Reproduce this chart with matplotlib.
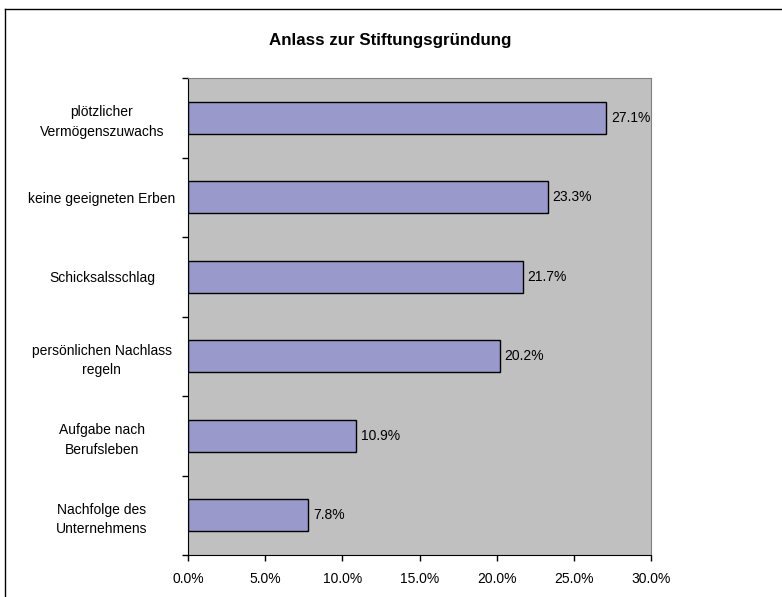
import numpy as np
import matplotlib.pyplot as plt
from matplotlib.lines import Line2D

plt.rcParams['font.family'] = ['Liberation Sans', 'DejaVu Sans']

# Data (top to bottom as shown)
categories = ["plötzlicher\nVermögenszuwachs",
              "keine geeigneten Erben",
              "Schicksalsschlag",
              "persönlichen Nachlass\nregeln",
              "Aufgabe nach\nBerufsleben",
              "Nachfolge des\nUnternehmens"]
values = [27.1, 23.3, 21.7, 20.2, 10.9, 7.8]
xticks = [0, 5, 10, 15, 20, 25, 30]

fig = plt.figure(figsize=(7.82, 5.97), dpi=100)
ax = fig.add_axes([188/782, 42/597, 463/782, 477/597])
ax.set_facecolor('#C0C0C0')

# positions: first category at top
ypos = np.arange(len(categories))[::-1]
ax.barh(ypos, values, height=0.4, color='#9999CC', edgecolor='black', linewidth=1)

for y, v in zip(ypos, values):
    ax.text(v + 0.3, y, f"{v:.1f}%", va='center', ha='left', fontsize=10)

ax.set_xlim(0, 30)
ax.set_ylim(-0.5, len(categories) - 0.5)

ax.set_xticks(xticks)
ax.set_xticklabels([f"{t:.1f}%" for t in xticks], fontsize=10)
ax.tick_params(axis='x', direction='out', length=4, width=1, pad=8)

ax.set_yticks(ypos)
ax.set_yticklabels(categories, fontsize=10, ha='center', multialignment='center',
                   linespacing=1.5)
ax.tick_params(axis='y', which='major', length=0, pad=62)
ax.set_yticks(np.arange(-0.5, len(categories)), minor=True)
ax.tick_params(axis='y', which='minor', direction='out', length=4, width=1)

for s in ['top', 'right']:
    ax.spines[s].set_color('#808080')
for s in ['left', 'bottom']:
    ax.spines[s].set_color('black')

fig.text(390/782, 1 - 41/597, "Anlass zur Stiftungsgründung", ha='center', va='center',
         fontsize=12.2, fontweight='bold')

# outer chart border (left and top visible)
fig.add_artist(Line2D([5/782, 5/782], [0, 1 - 9/597], transform=fig.transFigure,
                      color='black', linewidth=1))
fig.add_artist(Line2D([5/782, 1], [1 - 9/597, 1 - 9/597], transform=fig.transFigure,
                      color='black', linewidth=1))

fig.savefig('out.png', dpi=100)
